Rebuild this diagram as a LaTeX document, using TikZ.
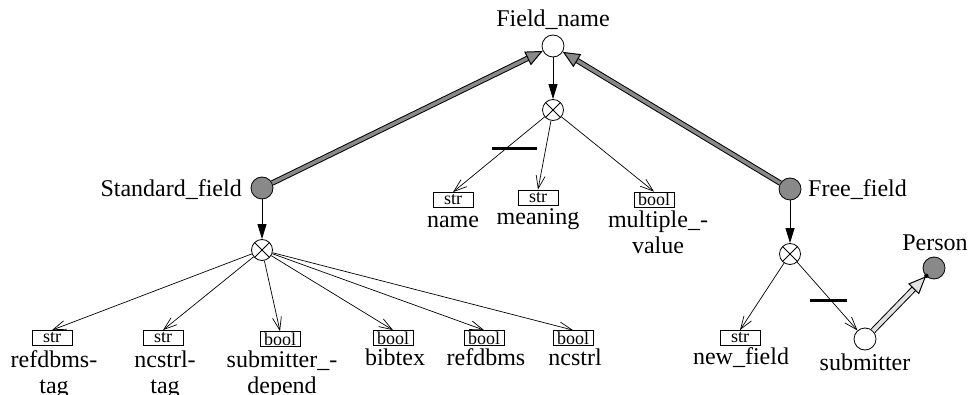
\documentclass[tikz,border=0pt]{standalone}
\usepackage{fontspec}
\setmainfont{Liberation Serif}
\usetikzlibrary{arrows.meta,calc}
\definecolor{midgray}{RGB}{137,137,137}
\definecolor{lightgray2}{RGB}{225,225,225}
\tikzset{
  lab/.style={font=\fontsize{24}{26}\selectfont, inner sep=0pt, align=center},
  objc/.style={circle, draw, line width=0.8pt, minimum size=22pt, inner sep=0pt},
  classc/.style={objc, fill=midgray},
  crossc/.style={circle, draw, line width=0.8pt, minimum size=21pt, inner sep=0pt,
    path picture={\draw[line width=0.8pt] (path picture bounding box.north west) -- (path picture bounding box.south east)
      (path picture bounding box.north east) -- (path picture bounding box.south west);}},
  typebox/.style={draw, line width=0.8pt, minimum width=40pt, minimum height=15pt, inner sep=0pt,
    font=\fontsize{18}{18}\selectfont},
  aggr/.style={line width=0.8pt, -{Triangle[length=15pt,width=9pt]}},
  attr/.style={line width=0.7pt, -{Straight Barb[length=13pt,width=9pt,line width=0.7pt]}},
  isa/.style={draw=black, line width=1pt, double=midgray, double distance=3.5pt,
    -{Triangle[length=17pt,width=15pt,fill=midgray,line width=1pt]}},
  ref/.style={draw=black, line width=1pt, double=lightgray2, double distance=4pt,
    -{Triangle[length=18pt,width=15pt,fill=lightgray2,line width=1pt]}},
  bar/.style={line width=3pt},
}
\begin{document}
\begin{tikzpicture}[x=1pt,y=-1pt]
\useasboundingbox (0,0) rectangle (968,395);
% top
\node[objc] (fn) at (553,46) {};
\node[lab, anchor=base] (fnl) at (553,27) {Field\_name};
\node[crossc] (c1) at (553,110) {};
% standard field
\node[classc] (sf) at (262,188) {};
\node[lab, anchor=base east] (sfl) at (242,197) {Standard\_field};
\node[crossc] (c2) at (262,250) {};
% free field
\node[classc] (ff) at (790,189) {};
\node[lab, anchor=base west] (ffl) at (808,197) {Free\_field};
\node[crossc] (c3) at (790,254) {};
% person / submitter
\node[classc] (person) at (934,268) {};
\node[lab, anchor=base] (personl) at (935,251) {Person};
\node[objc, fill=white] (sub) at (865,339) {};
\node[lab, anchor=base] (subl) at (865,370) {submitter};
% middle boxes
\node[typebox] (bname) at (453,200) {str};
\node[typebox] (bmean) at (538,197.5) {str};
\node[typebox] (bmult) at (654,199.5) {bool};
\node[lab, anchor=north] (lname) at (453,209) {\strut name};
\node[lab, anchor=north] (lmean) at (538,206.6) {\strut meaning};
\node[lab, anchor=north] (lmult) at (658,209.6) {\strut multiple\_-\\value};
% left boxes
\node[typebox] (b1) at (52,338) {str};
\node[typebox] (b2) at (163,338) {str};
\node[typebox] (b3) at (280,339) {bool};
\node[typebox] (b4) at (393,338) {bool};
\node[typebox] (b5) at (484,338) {bool};
\node[typebox] (b6) at (573,338) {bool};
\node[lab, anchor=north] (l1) at (54,348.8) {\strut refdbms-\\tag};
\node[lab, anchor=north] (l2) at (165,348.8) {\strut ncstrl-\\tag};
\node[lab, anchor=north] (l3) at (282,348.8) {\strut submitter\_-\\depend};
\node[lab, anchor=north] (l4) at (395,347) {\strut bibtex};
\node[lab, anchor=north] (l5) at (486,347) {\strut refdbms};
\node[lab, anchor=north] (l6) at (575,347) {\strut ncstrl};
% right box
\node[typebox] (bnew) at (740,338) {str};
\node[lab, anchor=base] (lnew) at (741,364) {new\_field};
% connectors
\draw[isa] (sf) -- (fn);
\draw[isa] (ff) -- (fn);
\draw[ref] (sub) -- (person);
\fill ($(person)!11pt!(sub)$) circle (2.2pt);
\draw[aggr] (fn) -- (c1);
\draw[aggr] (sf) -- (c2);
\draw[aggr] (ff) -- (c3);
\draw[attr] (c1) -- (bname.north);
\draw[attr] (c1) -- (bmean.north);
\draw[attr] (c1) -- (bmult.north);
\draw[attr] (c2) -- (b1.north);
\draw[attr] (c2) -- (b2.north);
\draw[attr] (c2) -- (b3.north);
\draw[attr] (c2) -- (b4.north);
\draw[attr] (c2) -- (b5.north);
\draw[attr] (c2) -- (b6.north);
\draw[attr] (c3) -- (bnew.north);
\draw[attr] (c3) -- (sub);
% multiplicity bars
\draw[bar] (492,149) -- (537,149);
\draw[bar] (810,300) -- (847,300);
\end{tikzpicture}
\end{document}
